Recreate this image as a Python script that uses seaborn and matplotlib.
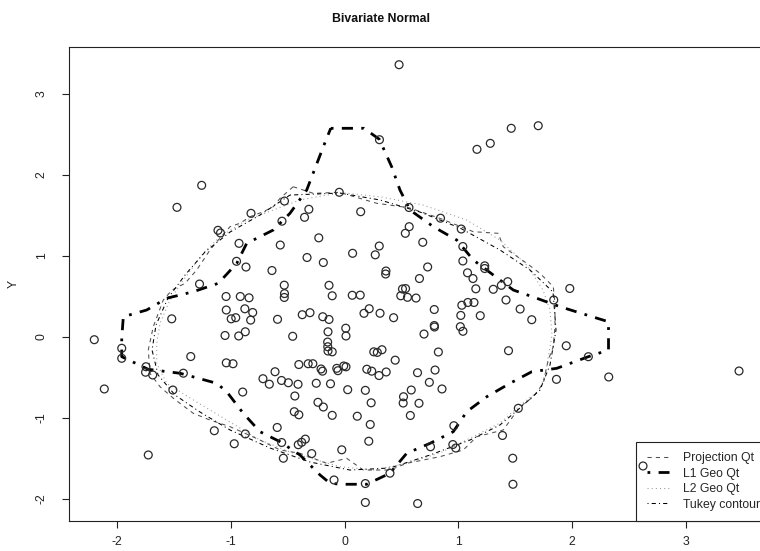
import numpy as np
import matplotlib
matplotlib.use("Agg")
import matplotlib.pyplot as plt
import seaborn as sns
from matplotlib.lines import Line2D

# ---------------- data ----------------
pts_x = [-2.197, -2.109, -1.956, -1.956, -1.723, 0.479, 0.307, 1.163, 1.280, 1.464,
         1.701, 3.464, 2.621, 2.320, 2.141, 1.947, 1.861, 1.978, -1.254, -1.471,
         -0.821, -1.111, -1.089, -0.926, -0.948, -0.865, -0.637, -1.273, -1.040, -0.915,
         -0.838, -0.046, -0.527, -0.313, -0.351, -0.549, 0.142, 0.566, 0.568, 0.534,
         -0.226, -0.564, 0.305, 0.270, -0.329, -0.186, 0.071, 0.364, 0.361, -0.136,
         -0.108, 0.068, 0.138, 0.509, 0.536, 0.494, 0.553, 0.628, -0.529, -0.527,
         -0.529, 0.843, 1.025, 0.687, 1.039, 1.039, 0.730, 1.231, 1.231, 1.080,
         1.128, 0.658, 1.153, 1.306, 1.377, 1.433, 1.418, 1.837, 1.542, 1.030,
         1.083, 1.137, 0.788, -1.038, -0.875, -0.806, -0.995, -0.955, -0.824, -0.588,
         -1.517, -1.049, -0.929, -0.871, -1.350, -1.038, -0.979, -1.743, -1.747, -1.684,
         -1.415, -0.610, -0.716, -0.660, -1.507, -0.894, -0.591, -1.143, -0.871, -0.968,
         -0.371, -0.303, -0.191, -0.136, 0.171, 0.217, 0.312, 0.431, -0.455, -0.145,
         0.011, 0.013, -0.148, -0.147, -0.145, -0.108, 0.257, 0.288, 0.329, 0.445,
         -0.401, -0.319, -0.278, -0.206, -0.193, -0.068, -0.058, -0.007, 0.013, 0.196,
         0.239, 0.303, 0.366, 0.641, -0.553, -0.493, -0.408, -0.248, -0.123, 0.028,
         0.183, 0.586, 0.518, 0.515, 0.654, 0.234, -0.436, -0.233, -0.186, -0.441,
         -0.401, -0.108, 0.112, 0.578, 0.226, 0.213, -0.024, -0.552, -0.406, -0.376,
         -0.344, -0.288, -0.537, 0.399, -0.092, 0.183, 0.183, 0.642, 1.021, 1.192,
         1.644, 0.788, 0.790, 1.017, 1.040, 0.698, 0.824, 1.440, 0.795, 0.745,
         0.856, 1.526, 0.960, 0.951, 0.977, 0.755, 1.387, 1.477, 1.479]
pts_y = [-0.037, -0.646, -0.143, -0.267, -1.462, 3.362, 2.435, 2.316, 2.390, 2.576,
         2.608, -0.424, -1.598, -0.498, -0.247, -0.112, -0.527, 0.596, 1.871, 1.599,
         1.525, 1.315, 1.282, 1.154, 0.932, 0.861, 0.818, 0.651, 0.497, 0.497,
         0.481, 1.785, 1.677, 1.575, 1.476, 1.428, 1.545, 1.597, 1.360, 1.278,
         1.222, 1.133, 1.121, 1.012, 0.979, 0.917, 1.031, 0.812, 0.775, 0.635,
         0.506, 0.512, 0.514, 0.590, 0.595, 0.506, 0.487, 0.478, 0.637, 0.533,
         0.485, 1.465, 1.331, 1.167, 1.115, 0.936, 0.862, 0.876, 0.843, 0.790,
         0.719, 0.719, 0.592, 0.586, 0.635, 0.680, 0.454, 0.454, 0.342, 0.389,
         0.423, 0.423, 0.336, 0.330, 0.345, 0.299, 0.221, 0.235, 0.205, 0.215,
         0.221, 0.015, 0.009, 0.061, -0.245, -0.323, -0.334, -0.371, -0.439, -0.473,
         -0.451, -0.433, -0.519, -0.587, -0.659, -0.684, -1.122, -1.162, -1.202, -1.323,
         0.272, 0.297, 0.247, 0.213, 0.289, 0.346, 0.290, 0.235, 0.005, 0.061,
         0.105, 0.009, -0.066, -0.124, -0.177, -0.187, -0.187, -0.194, -0.161, -0.290,
         -0.344, -0.334, -0.334, -0.399, -0.426, -0.391, -0.420, -0.362, -0.372, -0.402,
         -0.426, -0.480, -0.436, -0.445, -0.541, -0.569, -0.588, -0.575, -0.582, -0.655,
         -0.663, -0.659, -0.742, -0.820, -0.823, -0.817, -0.733, -0.811, -0.869, -0.927,
         -0.965, -0.972, -0.983, -0.974, -1.085, -1.292, -1.398, -1.308, -1.335, -1.305,
         -1.266, -1.445, -1.502, -1.687, -1.771, -1.815, -2.049, -2.062, 0.263, 0.260,
         0.210, 0.138, 0.120, 0.124, 0.067, 0.033, -0.189, -0.173, -0.412, -0.564,
         -0.646, -0.885, -1.100, -1.333, -1.376, -1.360, -1.221, -1.502, -1.824]

proj_x = [-0.450, -0.274, -0.046, 0.283, 0.566, 0.838, 1.131, 1.350, 1.394, 1.600,
          1.716, 1.833, 1.848, 1.848, 1.833, 1.789, 1.745, 1.658, 1.541, 1.394,
          1.161, 1.043, 0.838, 0.546, 0.399, 0.165, 0.019, -0.156, -0.391, -0.566,
          -0.742, -1.005, -1.181, -1.328, -1.503, -1.620, -1.708, -1.723, -1.679, -1.591,
          -1.515, -1.400, -1.298, -1.181, -1.108, -1.005, -0.918, -0.830, -0.713, -0.625,
          -0.566]
proj_y = [1.854, 1.772, 1.785, 1.649, 1.594, 1.463, 1.298, 1.278, 1.112, 0.907,
          0.784, 0.618, 0.413, 0.124, -0.124, -0.288, -0.576, -0.742, -0.865, -1.153,
          -1.236, -1.400, -1.483, -1.565, -1.648, -1.648, -1.503, -1.565, -1.441, -1.400,
          -1.277, -1.112, -1.030, -0.947, -0.761, -0.618, -0.452, -0.164, 0.124, 0.454,
          0.577, 0.660, 0.824, 1.072, 1.195, 1.360, 1.402, 1.483, 1.545, 1.607,
          1.711]

l1_x = [-0.121, 0.171, 0.306, 0.414, 0.487, 0.575, 0.780, 0.985, 1.131, 1.306,
        1.482, 1.688, 1.892, 2.127, 2.318, 2.318, 2.141, 1.863, 1.644, 1.453,
        1.249, 1.073, 0.955, 0.751, 0.546, 0.399, 0.195, -0.025, -0.127, -0.215,
        -0.391, -0.566, -0.742, -0.889, -1.034, -1.122, -1.444, -1.723, -1.956, -1.956,
        -1.942, -1.737, -1.561, -1.328, -1.108, -0.946, -0.859, -0.625, -0.479, -0.332,
        -0.186]
l1_y = [2.576, 2.576, 2.440, 2.101, 1.813, 1.566, 1.360, 1.195, 0.948, 0.763,
        0.577, 0.475, 0.371, 0.268, 0.185, -0.164, -0.247, -0.391, -0.433, -0.576,
        -0.742, -0.927, -1.174, -1.318, -1.441, -1.688, -1.824, -1.824, -1.812, -1.709,
        -1.462, -1.298, -1.174, -0.947, -0.680, -0.576, -0.452, -0.403, -0.247, -0.020,
        0.247, 0.330, 0.475, 0.556, 0.660, 0.907, 1.154, 1.319, 1.525, 1.813,
        2.348]

l2_x = [-1.093, -0.859, -0.625, -0.391, -0.156, 0.004, 0.312, 0.689, 1.073, 1.365,
        1.600, 1.743, 1.804, 1.822, 1.775, 1.716, 1.567, 1.365, 1.128, 0.838,
        0.546, 0.253, -0.040, -0.450, -0.742, -1.034, -1.328, -1.561, -1.649, -1.649,
        -1.620, -1.532, -1.415, -1.240]
l2_y = [1.236, 1.442, 1.566, 1.690, 1.751, 1.776, 1.730, 1.628, 1.442, 1.195,
        0.886, 0.577, 0.330, 0.021, -0.371, -0.659, -0.819, -1.067, -1.236, -1.437,
        -1.565, -1.648, -1.607, -1.441, -1.277, -1.030, -0.782, -0.576, -0.329, -0.082,
        0.166, 0.454, 0.701, 1.031]

tukey_x = [-0.479, -0.040, 0.312, 0.663, 1.014, 1.365, 1.629, 1.831, 1.857, 1.804,
           1.716, 1.541, 1.365, 1.102, 0.751, 0.399, 0.048, -0.303, -0.654, -1.005,
           -1.269, -1.488, -1.637, -1.690, -1.655, -1.550, -1.400, -1.225, -1.005, -0.742]
tukey_y = [1.751, 1.776, 1.690, 1.541, 1.344, 1.072, 0.824, 0.552, 0.083, -0.350,
           -0.659, -0.881, -1.091, -1.277, -1.462, -1.623, -1.648, -1.549, -1.376, -1.153,
           -0.931, -0.721, -0.473, -0.164, 0.145, 0.478, 0.763, 1.047, 1.294, 1.504]

x_ticks = [-2, -1, 0, 1, 2, 3]
y_ticks = [-2, -1, 0, 1, 2, 3]
legend_labels = ["Projection Qt", "L1 Geo Qt", "L2 Geo Qt", "Tukey contour"]

# ---------------- styling ----------------
sns.set_theme(style="white")
plt.rcParams['font.family'] = ['Liberation Sans', 'DejaVu Sans']
plt.rcParams['axes.unicode_minus'] = False

W, H = 760, 551
fig = plt.figure(figsize=(W / 100, H / 100), dpi=100)
AX_L, AX_R, AX_T, AX_B = 69, 765, 47, 521
ax = fig.add_axes([AX_L / W, 1 - AX_B / H, (AX_R - AX_L) / W, (AX_B - AX_T) / H])

styles = {
    "Projection Qt": dict(color="#505050", lw=0.75, ls=(0, (4, 4))),
    "L1 Geo Qt": dict(color="#000000", lw=2.0, ls=(0, (1, 3, 4, 3))),
    "L2 Geo Qt": dict(color="#999999", lw=0.75, ls=(0, (1, 3))),
    "Tukey contour": dict(color="#000000", lw=0.75, ls=(0, (1, 3, 4, 3))),
}
curves = {
    "Projection Qt": (proj_x, proj_y),
    "L1 Geo Qt": (l1_x, l1_y),
    "L2 Geo Qt": (l2_x, l2_y),
    "Tukey contour": (tukey_x, tukey_y),
}

for name in ["L2 Geo Qt", "Projection Qt", "Tukey contour", "L1 Geo Qt"]:
    cx, cy = curves[name]
    cx = list(cx) + [cx[0]]
    cy = list(cy) + [cy[0]]
    st = styles[name]
    sns.lineplot(x=cx, y=cy, sort=False, estimator=None, color=st["color"],
                 lw=st["lw"], ax=ax, zorder=3)
    ln = ax.lines[-1]
    ln.set_linestyle(st["ls"])
    ln.set_dash_capstyle("butt")

sns.scatterplot(x=pts_x, y=pts_y, marker="o", s=32, color="#2a2a2a",
                facecolor="none", edgecolor="#2a2a2a", linewidth=0.9,
                ax=ax, zorder=7, legend=False)

ax.set_xlim(-2.419, 3.692)
ax.set_ylim(-2.278, 3.581)
ax.set_xticks(x_ticks)
ax.set_yticks(y_ticks)
ax.set_xticklabels([str(v) for v in x_ticks])
ax.set_yticklabels([str(v) for v in y_ticks])
ax.set_xlabel("")
ax.set_ylabel("")

for sp in ax.spines.values():
    sp.set_color("#222222")
    sp.set_linewidth(0.8)

ax.tick_params(axis="both", which="major", direction="out", length=5.2, width=0.8,
               color="#222222", labelsize=8.8, labelcolor="#222222", bottom=True, left=True)
ax.tick_params(axis="x", pad=5.5)
ax.tick_params(axis="y", pad=14.5)
for lab in ax.get_yticklabels():
    lab.set_rotation(90)
    lab.set_va("center")
    lab.set_ha("center")

handles = []
for name in legend_labels:
    st = styles[name]
    handles.append(Line2D([], [], color=st["color"], lw=st["lw"], ls=st["ls"],
                          dash_capstyle="butt"))
leg = ax.legend(handles, legend_labels, loc="lower right",
                bbox_to_anchor=(1 + 6 / (AX_R - AX_L), 0),
                bbox_transform=ax.transAxes, borderaxespad=0, frameon=True,
                fancybox=False, framealpha=1, edgecolor="#222222", fontsize=8.8,
                handlelength=1.8, handletextpad=1.2, borderpad=0.85, labelspacing=0.28)
leg.get_frame().set_linewidth(0.8)
leg.set_zorder(5)

fig.text(381 / W, 1 - 19 / H, "Bivariate Normal", ha="center", va="center",
         fontweight="bold", fontsize=8.8, color="#111111")
fig.text(14 / W, 1 - 284 / H, "Y", rotation=90, ha="center", va="center",
         fontsize=8.8, color="#222222")

fig.savefig("out.png", dpi=100, facecolor="white")
